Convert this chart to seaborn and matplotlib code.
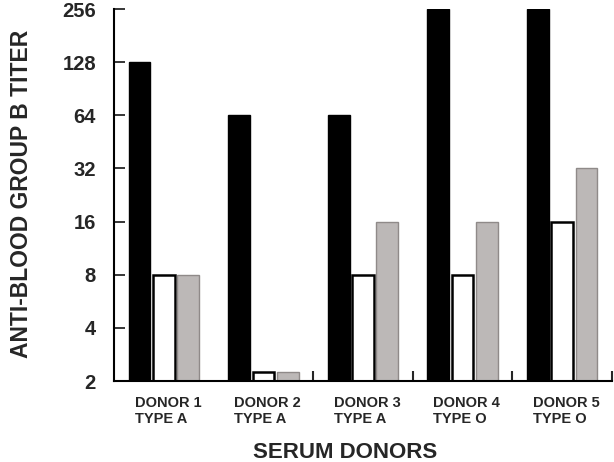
import matplotlib
matplotlib.use("Agg")
import matplotlib.pyplot as plt
import matplotlib.transforms as mtransforms
import seaborn as sns
import pandas as pd
import numpy as np

donors = ["DONOR 1\nTYPE A", "DONOR 2\nTYPE A", "DONOR 3\nTYPE A", "DONOR 4\nTYPE O", "DONOR 5\nTYPE O"]
series = ["S1", "S2", "S3"]
black_vals = [128, 64, 64, 256, 256]
white_vals = [8, 2.25, 8, 8, 16]
gray_vals = [8, 2.25, 16, 16, 32]
yticks = [2, 4, 8, 16, 32, 64, 128, 256]

df = pd.DataFrame({
    "donor": donors * 3,
    "series": [series[0]] * 5 + [series[1]] * 5 + [series[2]] * 5,
    "titer": black_vals + white_vals + gray_vals,
})

sns.set_style("white")
plt.rcParams["font.family"] = ["Liberation Sans", "DejaVu Sans"]
plt.rcParams["font.weight"] = "bold"

fig = plt.figure(figsize=(6.14, 4.62), dpi=100)
ax = fig.add_axes([0.1857, 0.1753, 0.811, 0.805])
ax.set_yscale("log", base=2)

palette = {"S1": "black", "S2": "white", "S3": "#bdb8b6"}
sns.barplot(data=df, x="donor", y="titer", hue="series", palette=palette,
            width=0.73, gap=0.1, ax=ax, legend=False)

edgecols = ["black", "black", "#8f8a89"]
widths = [1.0, 1.8, 1.0]
for cont, ec, lw in zip(ax.containers, edgecols, widths):
    for p in cont:
        p.set_edgecolor(ec)
        p.set_linewidth(lw)

ax.set_ylim(2, 256)
ax.set_xlim(-0.5, 4.5)
ax.set_yticks(yticks)
ax.set_yticklabels([str(v) for v in yticks], fontsize=14.5, fontweight="bold")
ax.yaxis.set_minor_locator(matplotlib.ticker.NullLocator())
ax.tick_params(axis="y", which="major", direction="in", length=8, width=1.3, left=True, pad=13)

ax.set_xticks(range(5))
ax.set_xticklabels(donors, fontsize=10.5, fontweight="bold", multialignment="left", linespacing=1.15)
ax.tick_params(axis="x", which="major", length=0, pad=11)
ax.set_xticks([1.5, 2.5, 3.5, 4.5], minor=True)
ax.tick_params(axis="x", which="minor", direction="in", length=7, width=1.5, bottom=True)
offset = mtransforms.ScaledTranslation(4 / 100, 0, fig.dpi_scale_trans)
for lbl in ax.get_xticklabels():
    lbl.set_transform(lbl.get_transform() + offset)

for s in ["top", "right"]:
    ax.spines[s].set_visible(False)
for s in ["left", "bottom"]:
    ax.spines[s].set_color("black")
    ax.spines[s].set_linewidth(1.5)

ax.set_ylabel("ANTI-BLOOD GROUP B TITER", fontsize=16.5, fontweight="bold")
ax.set_xlabel("SERUM DONORS", fontsize=16, fontweight="bold")
ax.yaxis.set_label_coords(-0.162, 0.503)
ax.xaxis.set_label_coords(0.464, -0.165)

fig.savefig("out.png", dpi=100)
